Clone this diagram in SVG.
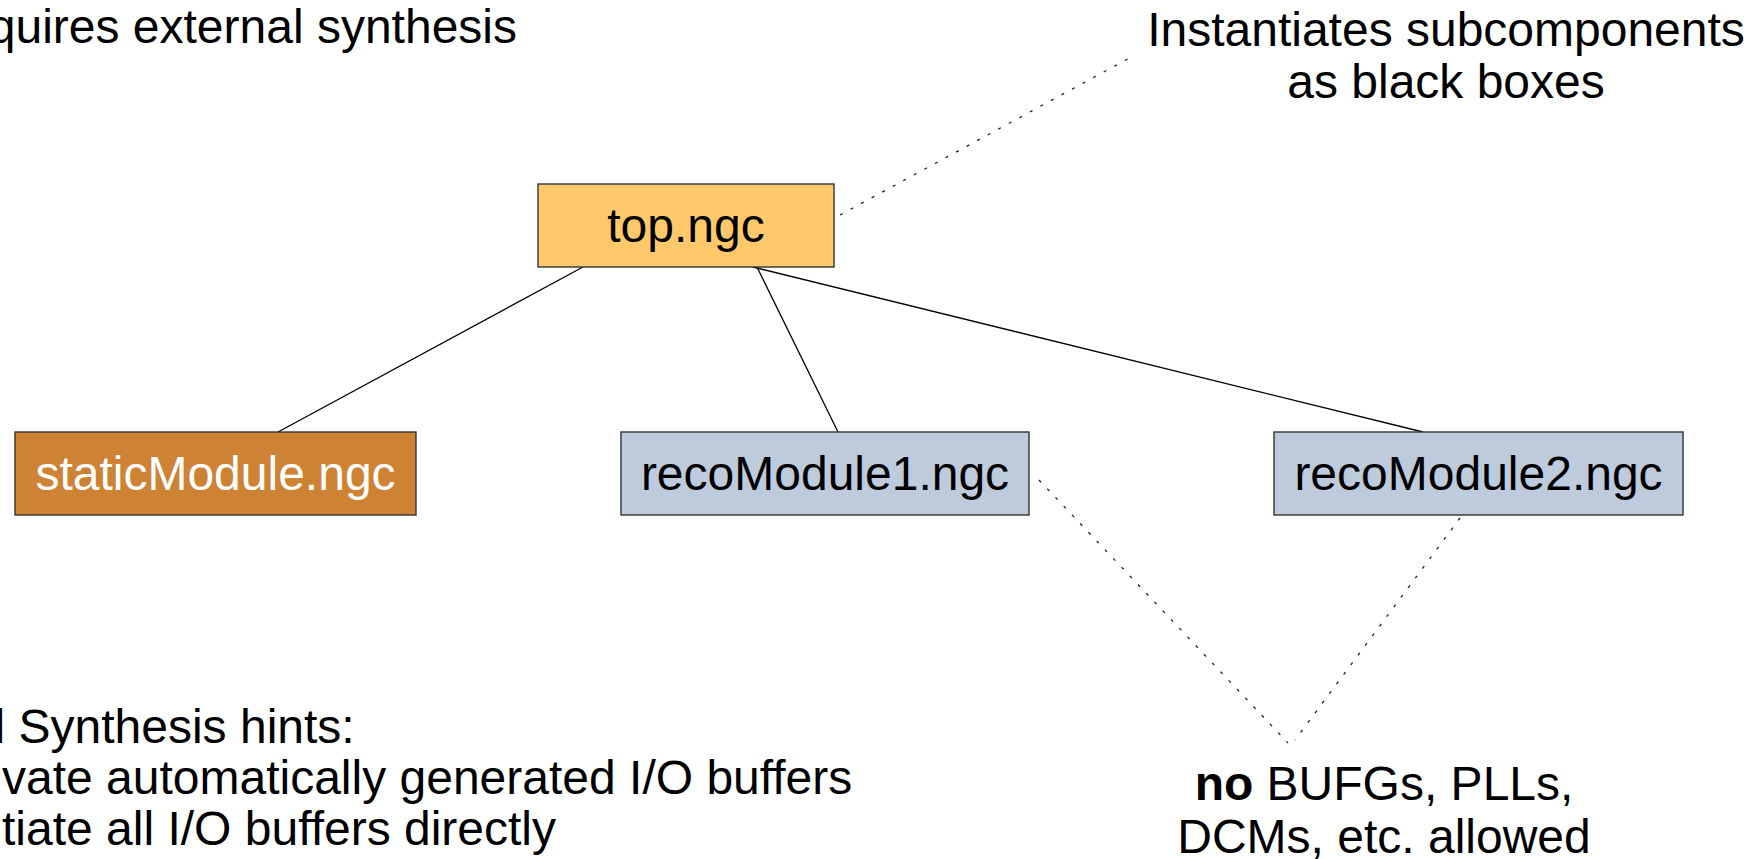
<svg xmlns="http://www.w3.org/2000/svg" width="1763" height="859" viewBox="0 0 1763 859">
<style>
text { font-family: "Liberation Sans", Arial, sans-serif; font-size: 48px; fill: #000; }
.node rect { stroke: #333; stroke-width: 1.4; }
.lbl { text-anchor: middle; }
.solid { stroke: #000; stroke-width: 1.3; fill: none; }
.dot { stroke: #222; stroke-width: 1.3; fill: none; stroke-dasharray: 3 9; }
</style>
<rect width="1763" height="859" fill="#fff"/>
<g id="connectors">
<line class="solid" x1="583" y1="267" x2="278" y2="432"/>
<line class="solid" x1="757" y1="267" x2="838" y2="432"/>
<line class="solid" x1="753" y1="267" x2="1423" y2="432"/>
<line class="dot" x1="840" y1="215" x2="1135" y2="55"/>
<line class="dot" x1="1039" y1="480" x2="1288" y2="743"/>
<line class="dot" x1="1460" y1="518" x2="1295" y2="740"/>
</g>
<g id="top" class="node">
<rect x="538" y="184" width="296" height="83" fill="#FFC96B"/>
<text class="lbl" x="686" y="242">top.ngc</text>
</g>
<g id="staticModule" class="node">
<rect x="15" y="432" width="401" height="83" fill="#CE8233"/>
<text class="lbl" x="215.5" y="490" style="fill:#fff">staticModule.ngc</text>
</g>
<g id="recoModule1" class="node">
<rect x="621" y="432" width="408" height="83" fill="#BDCBDD"/>
<text class="lbl" x="825" y="490">recoModule1.ngc</text>
</g>
<g id="recoModule2" class="node">
<rect x="1274" y="432" width="409" height="83" fill="#BDCBDD"/>
<text class="lbl" x="1478.5" y="490">recoModule2.ngc</text>
</g>
<g id="note-synthesis">
<text x="517" y="43" text-anchor="end">quires external synthesis</text>
</g>
<g id="note-instantiates">
<text class="lbl" x="1446" y="46">Instantiates subcomponents</text>
<text class="lbl" x="1446" y="98">as black boxes</text>
</g>
<g id="note-hints">
<text x="-5.5" y="743">l Synthesis hints:</text>
<text x="2" y="794">vate automatically generated I/O buffers</text>
<text x="2" y="845">tiate all I/O buffers directly</text>
</g>
<g id="note-nobufg">
<text class="lbl" x="1384" y="800"><tspan font-weight="bold">no</tspan> BUFGs, PLLs,</text>
<text class="lbl" x="1384" y="853">DCMs, etc. allowed</text>
</g>
</svg>
